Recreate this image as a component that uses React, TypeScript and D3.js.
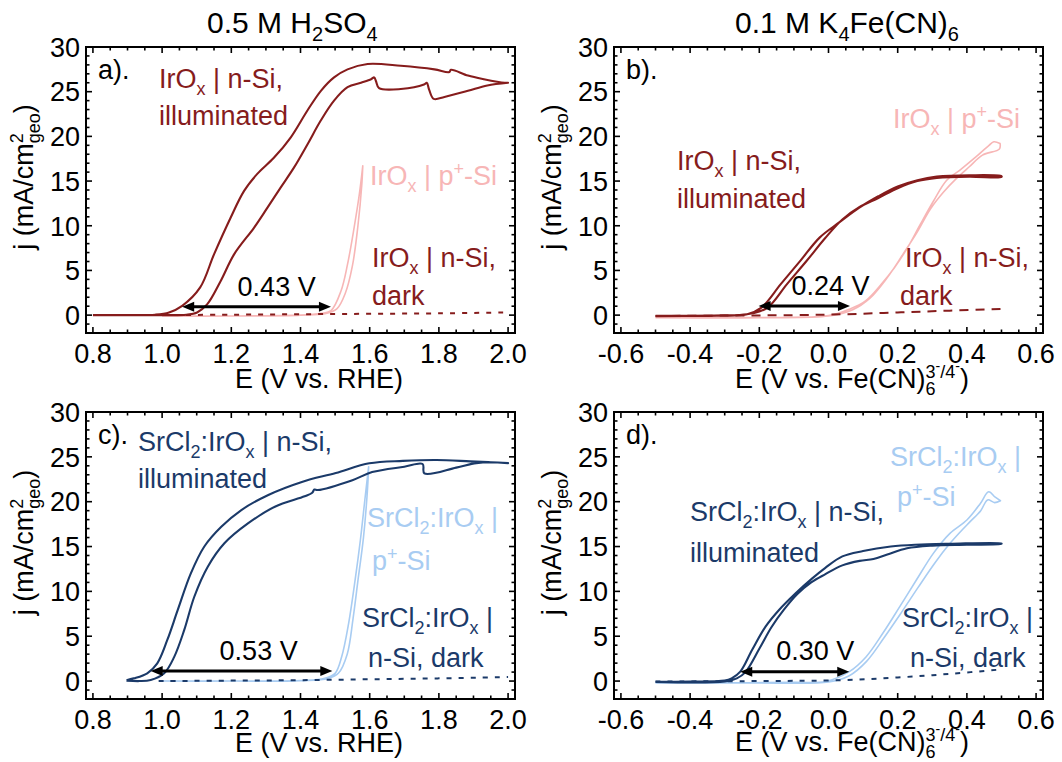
import React from "react";
import * as d3 from "d3";

// ---------- DATA ----------
type Pt = [number, number];

// Panel a: IrOx, 0.5 M H2SO4 (E vs RHE)
const aIllumFwd: Pt[] = [[0.8,0.0],[0.9,0.0],[0.98,0.05],[1.02,0.3],[1.058,1.04],[1.11,3.1],[1.15,6.8],[1.198,10.9],[1.237,13.9],[1.275,15.8],[1.323,17.6],[1.372,19.9],[1.42,22.9],[1.459,25.1],[1.497,26.6],[1.536,27.5],[1.594,28.1],[1.69,27.9],[1.787,27.5],[1.83,27.2],[1.835,27.45],[1.884,26.8],[1.93,26.4],[1.99,26.0],[2.0,26.0]];
const aIllumRev: Pt[] = [[2.0,26.0],[1.94,25.7],[1.884,25.1],[1.816,24.4],[1.785,24.2],[1.772,25.2],[1.765,26.0],[1.757,25.8],[1.69,25.3],[1.627,25.4],[1.618,26.2],[1.613,26.6],[1.604,26.4],[1.575,26.0],[1.536,25.5],[1.497,24.0],[1.459,21.8],[1.42,19.1],[1.381,16.5],[1.343,14.3],[1.304,12.0],[1.266,9.8],[1.208,6.8],[1.169,3.8],[1.13,1.2],[1.101,0.3],[1.07,0.05],[1.0,0.0],[0.8,0.0]];
const aPSiFwd: Pt[] = [[1.0,-0.1],[1.2,-0.1],[1.4,0.0],[1.46,0.2],[1.488,0.5],[1.517,2.7],[1.536,5.7],[1.555,9.8],[1.57,13.5],[1.58,16.7]];
const aPSiRev: Pt[] = [[1.58,16.7],[1.577,14.5],[1.566,10.0],[1.55,5.5],[1.53,2.5],[1.505,0.7],[1.47,0.15],[1.4,0.0],[1.2,-0.1],[1.0,-0.1]];
const aDark: Pt[] = [[1.0,0.0],[1.2,0.05],[1.4,0.1],[1.6,0.15],[1.8,0.2],[2.0,0.3]];
const aArrow: Pt[] = [[1.058,0.95],[1.488,0.95]];

// Panel b: IrOx, 0.1 M K4Fe(CN)6
const bIllumFwd: Pt[] = [[-0.5,-0.12],[-0.35,-0.08],[-0.26,0.0],[-0.22,0.2],[-0.176,0.84],[-0.12,3.47],[-0.063,6.08],[-0.01,8.6],[0.04,10.7],[0.09,12.1],[0.144,13.1],[0.2,14.2],[0.257,15.0],[0.313,15.35],[0.407,15.5],[0.5,15.45]];
const bIllumRev: Pt[] = [[0.5,15.55],[0.407,15.65],[0.313,15.5],[0.257,15.1],[0.2,14.4],[0.144,13.3],[0.088,12.0],[0.032,10.4],[-0.025,8.7],[-0.081,6.1],[-0.138,3.47],[-0.194,0.84],[-0.235,0.1],[-0.3,-0.02],[-0.5,-0.08]];
const bPSiFwd: Pt[] = [[-0.5,-0.28],[-0.3,-0.28],[-0.1,-0.25],[0.0,-0.05],[0.06,0.66],[0.107,1.59],[0.153,3.47],[0.191,5.33],[0.229,7.58],[0.266,10.2],[0.304,12.8],[0.341,15.07],[0.379,16.2],[0.426,17.7],[0.464,19.0],[0.478,19.4],[0.496,19.2]];
const bPSiRev: Pt[] = [[0.496,19.2],[0.494,18.6],[0.445,17.9],[0.407,16.6],[0.37,15.3],[0.332,13.75],[0.295,11.9],[0.255,9.2],[0.215,6.8],[0.17,4.2],[0.12,1.9],[0.07,0.6],[0.0,-0.1],[-0.2,-0.28],[-0.5,-0.3]];
const bDark: Pt[] = [[-0.5,-0.1],[-0.3,-0.05],[-0.1,0.0],[0.05,0.1],[0.2,0.3],[0.35,0.5],[0.5,0.7]];
const bArrow: Pt[] = [[-0.202,1.03],[0.062,1.03]];

// Panel c: SrCl2:IrOx, 0.5 M H2SO4
const cIllumFwd: Pt[] = [[0.897,0.05],[0.935,0.0],[0.967,0.12],[1.006,0.87],[1.035,2.7],[1.064,5.7],[1.093,9.4],[1.132,12.75],[1.18,15.36],[1.249,17.6],[1.326,19.44],[1.412,20.6],[1.434,21.0],[1.44,21.35],[1.45,21.3],[1.55,22.4],[1.607,23.3],[1.70,23.9],[1.753,24.2],[1.758,23.16],[1.85,23.8],[1.908,24.3],[1.95,24.4],[2.0,24.3]];
const cIllumRev: Pt[] = [[2.0,24.3],[1.95,24.4],[1.89,24.5],[1.793,24.65],[1.696,24.55],[1.599,24.28],[1.502,23.2],[1.404,22.2],[1.307,20.75],[1.229,19.07],[1.171,17.2],[1.122,15.0],[1.083,12.0],[1.045,7.9],[1.015,4.58],[0.986,1.98],[0.957,0.87],[0.918,0.3],[0.897,0.1]];
const cPSiFwd: Pt[] = [[1.0,0.0],[1.2,0.0],[1.4,0.05],[1.47,0.3],[1.5,0.86],[1.519,2.7],[1.539,6.4],[1.558,11.3],[1.573,15.7],[1.587,20.55],[1.597,23.9]];
const cPSiRev: Pt[] = [[1.597,23.9],[1.593,21.0],[1.582,16.0],[1.567,11.5],[1.552,7.0],[1.535,3.0],[1.51,0.9],[1.48,0.3],[1.4,0.05],[1.2,0.0],[1.0,0.0]];
const cDark: Pt[] = [[0.99,0.0],[1.2,0.05],[1.4,0.1],[1.6,0.2],[1.8,0.3],[2.0,0.45]];
const cArrow: Pt[] = [[0.967,1.12],[1.492,1.12]];

// Panel d: SrCl2:IrOx, 0.1 M K4Fe(CN)6
const dIllumFwd: Pt[] = [[-0.5,-0.1],[-0.3,-0.05],[-0.265,0.3],[-0.24,1.0],[-0.2,3.6],[-0.165,6.0],[-0.13,7.9],[-0.09,9.7],[-0.05,11.0],[-0.01,11.9],[0.04,12.9],[0.09,13.4],[0.13,13.6],[0.17,14.1],[0.227,14.8],[0.3,15.1],[0.4,15.2],[0.5,15.3]];
const dIllumRev: Pt[] = [[0.5,15.35],[0.35,15.3],[0.25,15.2],[0.18,15.0],[0.1,14.5],[0.04,13.9],[-0.01,12.6],[-0.047,11.45],[-0.095,9.78],[-0.143,7.92],[-0.182,6.06],[-0.221,3.46],[-0.255,1.05],[-0.28,0.3],[-0.3,0.05],[-0.4,-0.05],[-0.5,-0.07]];
const dPSiFwd: Pt[] = [[-0.5,-0.2],[-0.3,-0.2],[-0.1,-0.15],[-0.008,-0.05],[0.06,1.05],[0.109,2.72],[0.157,5.33],[0.206,8.3],[0.254,11.27],[0.303,14.24],[0.351,16.47],[0.40,17.96],[0.439,19.8],[0.463,21.1],[0.482,20.5],[0.497,20.1]];
const dPSiRev: Pt[] = [[0.497,20.1],[0.48,19.9],[0.46,20.2],[0.44,19.0],[0.41,17.8],[0.38,16.6],[0.35,15.3],[0.31,13.3],[0.26,10.5],[0.21,7.6],[0.16,4.8],[0.11,2.2],[0.06,0.6],[0.0,-0.1],[-0.2,-0.2],[-0.5,-0.22]];
const dDark: Pt[] = [[-0.5,-0.05],[-0.2,0.0],[0.04,0.1],[0.2,0.4],[0.35,0.8],[0.5,1.3]];
const dArrow: Pt[] = [[-0.255,1.05],[0.06,1.05]];

const xTicksRHE = [0.8, 1.0, 1.2, 1.4, 1.6, 1.8, 2.0];
const xTicksFe = [-0.6, -0.4, -0.2, 0.0, 0.2, 0.4, 0.6];
const yTicks = [0, 5, 10, 15, 20, 25, 30];
const arrowLabels = ["0.43 V", "0.24 V", "0.53 V", "0.30 V"];

// ---------- STYLE ----------
const DARKRED = "#861c1c";
const PINK = "#f7b6b6";
const NAVY = "#1b3a69";
const LIGHTBLUE = "#a8ccf2";
const FONT = "'Liberation Sans', Arial, Helvetica, sans-serif";
const FS = 27;

type Part = { t: string; k?: "sub" | "sup" | "sup2"; dx?: number };

function Rich({ x, y, parts, fill = "#000", anchor = "start", transform, fs = FS }: { x: number; y: number; parts: Part[]; fill?: string; anchor?: string; transform?: string; fs?: number }) {
  let cur = 0;
  const sfs = Math.round(fs * 0.68);
  return (
    <text x={x} y={y} fill={fill} fontSize={fs} fontFamily={FONT} textAnchor={anchor} transform={transform}>
      {parts.map((p, i) => {
        const target = p.k === "sub" ? fs * 0.27 : p.k === "sup" ? -fs * 0.38 : p.k === "sup2" ? -fs * 0.62 : 0;
        const dy = target - cur;
        cur = target;
        const f = p.k === "sup2" ? Math.round(fs * 0.5) : p.k ? sfs : fs;
        return (
          <tspan key={i} dy={dy} dx={p.dx || 0} fontSize={f}>{p.t}</tspan>
        );
      })}
    </text>
  );
}

const IrOx = (rest: string): Part[] => [{ t: "IrO" }, { t: "x", k: "sub" }, { t: rest }];
const SrIr = (rest: string): Part[] => [{ t: "SrCl" }, { t: "2", k: "sub" }, { t: ":IrO" }, { t: "x", k: "sub" }, { t: rest }];
const IrOxP: Part[] = [{ t: "IrO" }, { t: "x", k: "sub" }, { t: " | p" }, { t: "+", k: "sup" }, { t: "-Si" }];
const PSi: Part[] = [{ t: "p" }, { t: "+", k: "sup" }, { t: "-Si" }];

const yLabel: Part[] = [{ t: "j (mA/cm" }, { t: "2", k: "sup" }, { t: "geo", k: "sub", dx: -10 }, { t: ")" }];
const xLabelRHE: Part[] = [{ t: "E (V vs. RHE)" }];
const xLabelFe: Part[] = [{ t: "E (V vs. Fe(CN)" }, { t: "6", k: "sub" }, { t: "3", k: "sup", dx: -10 }, { t: "-", k: "sup2" }, { t: "/4", k: "sup" }, { t: "-", k: "sup2" }, { t: ")" }];

type Curve = { data: Pt[]; color: string; width: number; dash?: string };
type Label = { x: number; y: number; parts: Part[]; color: string };

type PanelCfg = {
  x0: number; x1: number; y0: number; y1: number;
  xDomain: [number, number];
  xTicks: number[];
  xMinorStep: number;
  letter: string;
  curves: Curve[];
  arrow: Pt[];
  arrowLabel: string;
  arrowLabelPos: Pt;
  labels: Label[];
  xLabel: Part[];
  xLabelX: number;
  xLabelDy: number;
};

const panels: PanelCfg[] = [
  {
    x0: 86, x1: 515, y0: 47, y1: 333, xDomain: [0.78, 2.02], xTicks: xTicksRHE, xMinorStep: 0.05, letter: "a).",
    curves: [
      { data: [...aPSiFwd, ...aPSiRev], color: PINK, width: 1.6 },
      { data: aDark, color: DARKRED, width: 2, dash: "5,7" },
      { data: [...aIllumFwd, ...aIllumRev], color: DARKRED, width: 2.1 },
    ],
    arrow: aArrow, arrowLabel: arrowLabels[0], arrowLabelPos: [1.331, 2.1],
    labels: [
      { x: 159, y: 88, parts: IrOx(" | n-Si,"), color: DARKRED },
      { x: 159, y: 125, parts: [{ t: "illuminated" }], color: DARKRED },
      { x: 370, y: 185, parts: IrOxP, color: PINK },
      { x: 372, y: 267, parts: IrOx(" | n-Si,"), color: DARKRED },
      { x: 372, y: 305, parts: [{ t: "dark" }], color: DARKRED },
    ],
    xLabel: xLabelRHE, xLabelX: 235, xLabelDy: 55,
  },
  {
    x0: 614, x1: 1043, y0: 47, y1: 333, xDomain: [-0.62, 0.62], xTicks: xTicksFe, xMinorStep: 0.05, letter: "b).",
    curves: [
      { data: [...bPSiFwd, ...bPSiRev], color: PINK, width: 1.6 },
      { data: bDark, color: DARKRED, width: 2, dash: "9,7" },
      { data: [...bIllumFwd, ...bIllumRev], color: DARKRED, width: 2.1 },
    ],
    arrow: bArrow, arrowLabel: arrowLabels[1], arrowLabelPos: [0.006, 2.2],
    labels: [
      { x: 677, y: 170, parts: IrOx(" | n-Si,"), color: DARKRED },
      { x: 677, y: 208, parts: [{ t: "illuminated" }], color: DARKRED },
      { x: 893, y: 128, parts: IrOxP, color: PINK },
      { x: 905, y: 267, parts: IrOx(" | n-Si,"), color: DARKRED },
      { x: 900, y: 305, parts: [{ t: "dark" }], color: DARKRED },
    ],
    xLabel: xLabelFe, xLabelX: 735, xLabelDy: 55,
  },
  {
    x0: 86, x1: 515, y0: 412, y1: 699, xDomain: [0.78, 2.02], xTicks: xTicksRHE, xMinorStep: 0.05, letter: "c).",
    curves: [
      { data: [...cPSiFwd, ...cPSiRev], color: LIGHTBLUE, width: 1.6 },
      { data: cDark, color: NAVY, width: 2, dash: "5,7" },
      { data: [...cIllumFwd, ...cIllumRev], color: NAVY, width: 2.1 },
    ],
    arrow: cArrow, arrowLabel: arrowLabels[2], arrowLabelPos: [1.279, 2.35],
    labels: [
      { x: 138, y: 451, parts: SrIr(" | n-Si,"), color: NAVY },
      { x: 138, y: 488, parts: [{ t: "illuminated" }], color: NAVY },
      { x: 367, y: 527, parts: SrIr(" |"), color: LIGHTBLUE },
      { x: 372, y: 570, parts: PSi, color: LIGHTBLUE },
      { x: 362, y: 627, parts: SrIr(" |"), color: NAVY },
      { x: 368, y: 667, parts: [{ t: "n-Si, dark" }], color: NAVY },
    ],
    xLabel: xLabelRHE, xLabelX: 235, xLabelDy: 53,
  },
  {
    x0: 614, x1: 1043, y0: 412, y1: 699, xDomain: [-0.62, 0.62], xTicks: xTicksFe, xMinorStep: 0.05, letter: "d).",
    curves: [
      { data: [...dPSiFwd, ...dPSiRev], color: LIGHTBLUE, width: 1.6 },
      { data: dDark, color: NAVY, width: 2, dash: "5,7" },
      { data: [...dIllumFwd, ...dIllumRev], color: NAVY, width: 2.1 },
    ],
    arrow: dArrow, arrowLabel: arrowLabels[3], arrowLabelPos: [-0.038, 2.35],
    labels: [
      { x: 690, y: 521, parts: SrIr(" | n-Si,"), color: NAVY },
      { x: 690, y: 562, parts: [{ t: "illuminated" }], color: NAVY },
      { x: 890, y: 466, parts: SrIr(" |"), color: LIGHTBLUE },
      { x: 897, y: 506, parts: PSi, color: LIGHTBLUE },
      { x: 902, y: 627, parts: SrIr(" |"), color: NAVY },
      { x: 910, y: 667, parts: [{ t: "n-Si, dark" }], color: NAVY },
    ],
    xLabel: xLabelFe, xLabelX: 735, xLabelDy: 52,
  },
];

function Panel({ p }: { p: PanelCfg }) {
  const x = d3.scaleLinear().domain(p.xDomain).range([p.x0, p.x1]);
  const y = d3.scaleLinear().domain([-2, 30]).range([p.y1, p.y0]);
  const line = d3.line<Pt>().x(d => x(d[0])).y(d => y(d[1])).curve(d3.curveCatmullRom.alpha(0.5));
  const xMinor = d3.range(Math.ceil(p.xDomain[0] / p.xMinorStep), Math.floor(p.xDomain[1] / p.xMinorStep) + 1).map(i => i * p.xMinorStep);
  const yMinor = d3.range(-1, 30, 1);
  const fmt = (v: number) => d3.format(".1f")(v).replace("\u2212", "-");
  const majL = 6, minL = 3.5;
  const [a0, a1] = p.arrow;
  const ax0 = x(a0[0]), ax1 = x(a1[0]), ay = y(a0[1]);
  const ah = 12, aw = 5;
  const cy = (p.y0 + p.y1) / 2;
  return (
    <g>
      <defs>
        <clipPath id={"clip" + p.letter[0]}>
          <rect x={p.x0} y={p.y0} width={p.x1 - p.x0} height={p.y1 - p.y0} />
        </clipPath>
      </defs>
      <g clipPath={`url(#clip${p.letter[0]})`}>
        {p.curves.map((c, i) => (
          <path key={i} d={line(c.data) || ""} fill="none" stroke={c.color} strokeWidth={c.width} strokeDasharray={c.dash} strokeLinejoin="round" />
        ))}
      </g>
      {/* arrow */}
      <line x1={ax0 + ah - 1} x2={ax1 - ah + 1} y1={ay} y2={ay} stroke="#000" strokeWidth={3} />
      <polygon points={`${ax0},${ay} ${ax0 + ah},${ay - aw} ${ax0 + ah},${ay + aw}`} fill="#000" />
      <polygon points={`${ax1},${ay} ${ax1 - ah},${ay - aw} ${ax1 - ah},${ay + aw}`} fill="#000" />
      <text x={x(p.arrowLabelPos[0])} y={y(p.arrowLabelPos[1])} textAnchor="middle" fontSize={FS} fontFamily={FONT} fill="#000">{p.arrowLabel}</text>
      {/* frame */}
      <rect x={p.x0} y={p.y0} width={p.x1 - p.x0} height={p.y1 - p.y0} fill="none" stroke="#000" strokeWidth={2} />
      {/* ticks */}
      <g stroke="#000" strokeWidth={1.6}>
        {xMinor.map((v, i) => {
          const isMaj = p.xTicks.some(t => Math.abs(t - v) < 1e-6);
          const L = isMaj ? majL : minL;
          return (
            <g key={"xm" + i}>
              <line x1={x(v)} x2={x(v)} y1={p.y1} y2={p.y1 - L} />
              <line x1={x(v)} x2={x(v)} y1={p.y0} y2={p.y0 + L} />
            </g>
          );
        })}
        {yMinor.map((v, i) => {
          const isMaj = v % 5 === 0;
          const L = isMaj ? majL : minL;
          return (
            <g key={"ym" + i}>
              <line x1={p.x0} x2={p.x0 + L} y1={y(v)} y2={y(v)} />
              <line x1={p.x1} x2={p.x1 - L} y1={y(v)} y2={y(v)} />
            </g>
          );
        })}
      </g>
      {/* tick labels */}
      {p.xTicks.map((v, i) => (
        <text key={"xl" + i} x={x(v)} y={p.y1 + 30} textAnchor="middle" fontSize={FS} fontFamily={FONT} fill="#000">{fmt(v)}</text>
      ))}
      {yTicks.map((v, i) => (
        <text key={"yl" + i} x={p.x0 - 6} y={y(v) + 9.8} textAnchor="end" fontSize={FS} fontFamily={FONT} fill="#000">{v}</text>
      ))}
      {/* axis titles */}
      <Rich x={p.xLabelX} y={p.y1 + p.xLabelDy} parts={p.xLabel} />
      <Rich x={0} y={0} parts={yLabel} anchor="middle" transform={`translate(${p.x0 - 53},${cy - 13}) rotate(-90)`} />
      {/* panel letter */}
      <text x={p.x0 + 12} y={p.y0 + 32} fontSize={FS} fontFamily={FONT} fill="#000">{p.letter}</text>
      {p.labels.map((l, i) => (
        <Rich key={"lb" + i} x={l.x} y={l.y} parts={l.parts} fill={l.color} />
      ))}
    </g>
  );
}

const titles: { x: number; parts: Part[] }[] = [
  { x: 207, parts: [{ t: "0.5 M H" }, { t: "2", k: "sub" }, { t: "SO" }, { t: "4", k: "sub" }] },
  { x: 735, parts: [{ t: "0.1 M K" }, { t: "4", k: "sub" }, { t: "Fe(CN)" }, { t: "6", k: "sub" }] },
];

export default function App() {
  return (
    <svg width={1062} height={762} style={{ position: "absolute", left: 0, top: 0, background: "#fff" }}>
      <rect x={0} y={0} width={1062} height={762} fill="#fff" />
      {titles.map((t, i) => (
        <Rich key={i} x={t.x} y={33} parts={t.parts} fs={30} />
      ))}
      {panels.map((p, i) => <Panel key={i} p={p} />)}
    </svg>
  );
}
